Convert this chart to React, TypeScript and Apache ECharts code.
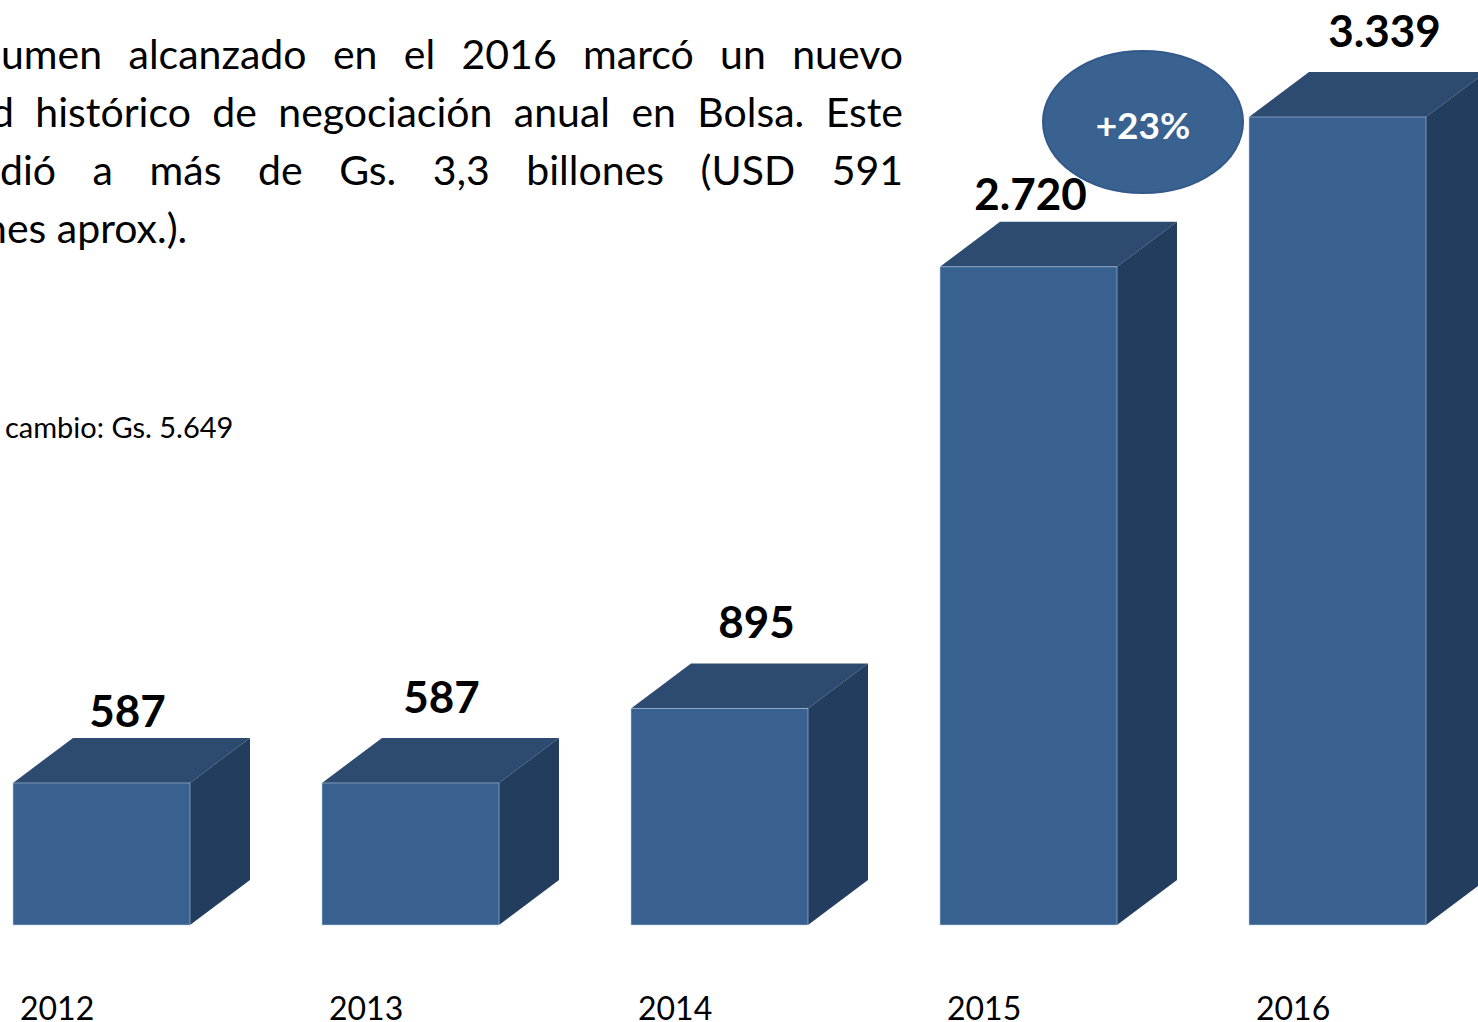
import React, { useEffect, useRef } from "react";
import * as echarts from "echarts";

// ---- data ----
const years: string[] = ["2012", "2013", "2014", "2015", "2016"];
const volumes: number[] = [587, 587, 895, 2720, 3339];
const growthLabel = "+23%";
const paragraphLines: string[] = [
  "umen alcanzado en el 2016 marcó un nuevo",
  "d histórico de negociación anual en Bolsa. Este",
  "dió a más de Gs. 3,3 billones (USD 591",
  "nes aprox.).",
];
const exchangeNote = "cambio: Gs. 5.649";

// ---- layout / style ----
const FONT = "Lato";
const FRONT = "#386190";
const TOP = "#2D4A70";
const SIDE = "#233D5E";
const EDGE = "rgba(190,210,235,0.55)";
const FRONT_W = 177;
const FRONT_OFFSET = -141.5; // front-face left relative to band centre
const DEPTH_X = 60;
const DEPTH_Y = 45;
const LABEL_DX = [-4, 1, 7, -28, 17];
const LABEL_DY = [14, 0, 0, 13, 0];
const PARA_SIZE = 41;
const PARA_RIGHT = 903;
const PARA_LEFT = [1, -9, 0, -16];
const PARA_Y = [53, 111, 169, 227];

const fmt = (v: number) => String(v).replace(/\B(?=(\d{3})+(?!\d))/g, ".");

function buildParagraph(): any[] {
  const canvas = document.createElement("canvas");
  const ctx = canvas.getContext("2d")!;
  ctx.font = `${PARA_SIZE}px ${FONT}`;
  const els: any[] = [];
  paragraphLines.forEach((line, li) => {
    const words = line.split(" ");
    const widths = words.map((w) => ctx.measureText(w).width);
    const total = widths.reduce((a, b) => a + b, 0);
    const justify = li < paragraphLines.length - 1;
    const gap = justify
      ? (PARA_RIGHT - PARA_LEFT[li] - total) / (words.length - 1)
      : ctx.measureText(" ").width;
    let x = PARA_LEFT[li];
    words.forEach((w, wi) => {
      els.push({
        type: "text",
        x,
        y: PARA_Y[li],
        style: {
          text: w,
          fontSize: PARA_SIZE,
          fontFamily: FONT,
          fill: "#000",
          verticalAlign: "middle",
        },
      });
      x += widths[wi] + gap;
    });
  });
  return els;
}

export default function App() {
  const ref = useRef<HTMLDivElement>(null);
  useEffect(() => {
    if (!ref.current) return;
    const chart = echarts.init(ref.current, undefined, { renderer: "svg" });
    const option: any = {
      animation: false,
      backgroundColor: "#fff",
      grid: {
        left: 0,
        top: 78,
        width: 1545,
        height: 847,
        outerBoundsMode: "none",
        containLabel: false,
      },
      xAxis: {
        type: "category",
        data: years,
        show: false,
        boundaryGap: true,
      },
      yAxis: { type: "value", min: 0, max: 3500, show: false },
      series: [
        {
          type: "custom",
          clip: false,
          data: volumes.map((v, i) => [i, v]),
          renderItem: (params: any, api: any) => {
            const i = params.dataIndex;
            const v = api.value(1);
            const top = api.coord([api.value(0), v]);
            const base = api.coord([api.value(0), 0]);
            const x0 = top[0] + FRONT_OFFSET;
            const x1 = x0 + FRONT_W;
            const yT = top[1];
            const yB = base[1];
            return {
              type: "group",
              children: [
                {
                  type: "polygon",
                  shape: {
                    points: [
                      [x0, yT],
                      [x0 + DEPTH_X, yT - DEPTH_Y],
                      [x1 + DEPTH_X, yT - DEPTH_Y],
                      [x1, yT],
                    ],
                  },
                  style: { fill: TOP },
                },
                {
                  type: "polygon",
                  shape: {
                    points: [
                      [x1, yT],
                      [x1 + DEPTH_X, yT - DEPTH_Y],
                      [x1 + DEPTH_X, yB - DEPTH_Y],
                      [x1, yB],
                    ],
                  },
                  style: { fill: SIDE },
                },
                {
                  type: "rect",
                  shape: { x: x0, y: yT, width: FRONT_W, height: yB - yT },
                  style: { fill: FRONT, stroke: EDGE, lineWidth: 1 },
                },
                {
                  type: "text",
                  x: x0 + FRONT_W / 2 + DEPTH_X / 2 + LABEL_DX[i],
                  y: yT - DEPTH_Y - 42 + LABEL_DY[i],
                  style: {
                    text: fmt(volumes[i]),
                    fontSize: 44,
                    fontWeight: "bold",
                    fontFamily: FONT,
                    fill: "#000",
                    align: "center",
                    verticalAlign: "middle",
                  },
                },
                {
                  type: "text",
                  x: x0 + 7,
                  y: yB + 82,
                  style: {
                    text: years[i],
                    fontSize: 32,
                    fontFamily: FONT,
                    fill: "#000",
                    align: "left",
                    verticalAlign: "middle",
                  },
                },
              ],
            };
          },
        },
      ],
      graphic: [
        ...buildParagraph(),
        {
          type: "text",
          x: 5,
          y: 426,
          style: {
            text: exchangeNote,
            fontSize: 29,
            fontFamily: FONT,
            fill: "#000",
            verticalAlign: "middle",
          },
        },
        {
          type: "ellipse",
          shape: { cx: 1143, cy: 122, rx: 100, ry: 71 },
          style: { fill: "#3A6291", stroke: "#33598a", lineWidth: 2 },
        },
        {
          type: "text",
          x: 1143,
          y: 124,
          style: {
            text: growthLabel,
            fontSize: 37,
            fontWeight: "bold",
            fontFamily: FONT,
            fill: "#fff",
            align: "center",
            verticalAlign: "middle",
          },
        },
      ],
    };
    chart.setOption(option);
    return () => chart.dispose();
  }, []);
  return (
    <div
      ref={ref}
      style={{
        position: "fixed",
        left: 0,
        top: 0,
        width: 1478,
        height: 1022,
        overflow: "hidden",
        background: "#fff",
      }}
    />
  );
}
